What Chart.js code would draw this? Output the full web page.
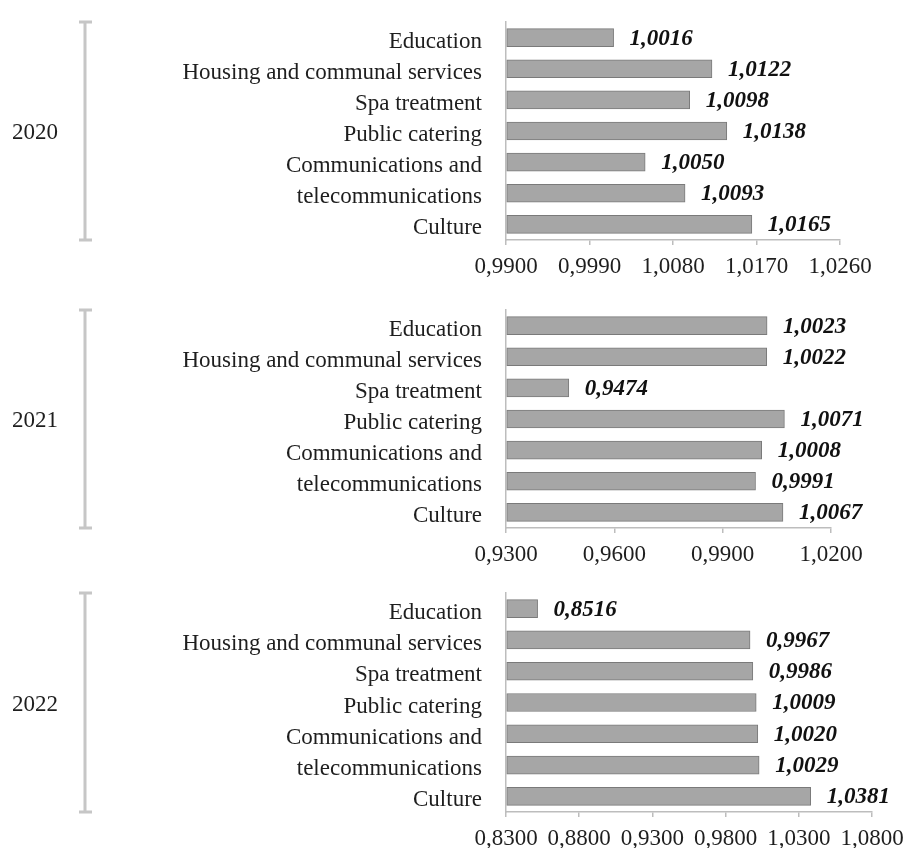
<!DOCTYPE html>
<html>
<head>
<meta charset="utf-8">
<script src="https://cdn.jsdelivr.net/npm/chart.js@4.4.1/dist/chart.umd.min.js"></script>
<style>
  body { margin: 0; background: #fff; overflow: hidden; width: 905px; height: 848px; position: relative; }
  canvas { position: absolute; left: 0; }
</style>
</head>
<body>
<canvas id="chart2020" width="905" height="286" style="top:0"></canvas>
<canvas id="chart2021" width="905" height="286" style="top:288px"></canvas>
<canvas id="chart2022" width="905" height="277" style="top:571px"></canvas>
<script>
const categories = [
    "Education",
    "Housing and communal services",
    "Spa treatment",
    "Public catering",
    "Communications and",
    "telecommunications",
    "Culture"
];

const values2020 = [1.0016, 1.0122, 1.0098, 1.0138, 1.0050, 1.0093, 1.0165];
const values2021 = [1.0023, 1.0022, 0.9474, 1.0071, 1.0008, 0.9991, 1.0067];
const values2022 = [0.8516, 0.9967, 0.9986, 1.0009, 1.0020, 1.0029, 1.0381];

const ticks2020 = [0.99, 0.999, 1.008, 1.017, 1.026];
const ticks2021 = [0.93, 0.96, 0.99, 1.02];
const ticks2022 = [0.83, 0.88, 0.93, 0.98, 1.03, 1.08];

Chart.defaults.font.family = '"Liberation Serif", "Times New Roman", serif';
Chart.defaults.font.size = 23;
Chart.defaults.color = "#1e1e1e";

function fmt(v) {
    return Number(v).toFixed(4).replace(".", ",");
}

// year caption with the gray bracket on the left side
const yearBracket = {
    id: "yearBracket",
    afterDraw(chart, args, opts) {
        const ctx = chart.ctx;
        const area = chart.chartArea;
        ctx.save();
        ctx.strokeStyle = "#c6c6c6";
        ctx.lineWidth = 3;
        ctx.beginPath();
        ctx.moveTo(85, area.top);
        ctx.lineTo(85, area.bottom);
        ctx.moveTo(79, area.top);
        ctx.lineTo(92, area.top);
        ctx.moveTo(79, area.bottom);
        ctx.lineTo(92, area.bottom);
        ctx.stroke();
        ctx.fillStyle = "#1e1e1e";
        ctx.font = '23px "Liberation Serif"';
        ctx.textAlign = "center";
        ctx.textBaseline = "middle";
        ctx.fillText(opts.year, 35, (area.top + area.bottom) / 2 + 2);
        ctx.restore();
    }
};

// bold italic value next to every bar
const valueLabels = {
    id: "valueLabels",
    afterDatasetsDraw(chart) {
        const ctx = chart.ctx;
        const meta = chart.getDatasetMeta(0);
        const xScale = chart.scales.x;
        ctx.save();
        ctx.font = 'italic bold 23px "Liberation Serif"';
        ctx.fillStyle = "#111";
        ctx.textAlign = "left";
        ctx.textBaseline = "middle";
        chart.data.datasets[0].data.forEach((v, i) => {
            ctx.fillText(fmt(v), xScale.getPixelForValue(v) + 16, meta.data[i].y + 1);
        });
        ctx.restore();
    }
};

function drawPanel(id, year, values, tickValues, rightPad, axisHeight) {
    const min = tickValues[0];
    const max = tickValues[tickValues.length - 1];

    new Chart(document.getElementById(id), {
        type: "bar",
        data: {
            labels: categories,
            datasets: [
                {
                    data: values,
                    base: min,
                    backgroundColor: "#a6a6a6",
                    borderColor: "#7a7a7a",
                    borderWidth: 1,
                    borderSkipped: false,
                    barThickness: 18
                }
            ]
        },
        options: {
            indexAxis: "y",
            responsive: false,
            animation: false,
            events: [],
            layout: { padding: { top: 22, right: rightPad, left: 0, bottom: 0 } },
            plugins: {
                legend: { display: false },
                tooltip: { enabled: false },
                yearBracket: { year: year }
            },
            scales: {
                x: {
                    min: min,
                    max: max,
                    afterBuildTicks: s => { s.ticks = tickValues.map(v => ({ value: v })); },
                    afterFit: s => {
                        s.height = axisHeight;
                        s.paddingLeft = 0;
                        s.paddingRight = 0;
                    },
                    grid: { drawOnChartArea: false, drawTicks: true, tickLength: 5, color: "#bdbdbd", lineWidth: 1.5 },
                    border: { color: "#bdbdbd", width: 1.5 },
                    ticks: { padding: 8, maxRotation: 0, autoSkip: false, callback: v => fmt(v) }
                },
                y: {
                    afterFit: s => {
                        s.width = 506;
                        s.paddingTop = 0;
                        s.paddingBottom = 0;
                    },
                    grid: { display: false },
                    border: { display: true, color: "#bdbdbd", width: 1.5 },
                    ticks: { padding: 16, labelOffset: 4, autoSkip: false }
                }
            }
        },
        plugins: [yearBracket, valueLabels]
    });
}

drawPanel("chart2020", "2020", values2020, ticks2020, 65, 46);
drawPanel("chart2021", "2021", values2021, ticks2021, 74, 46);
drawPanel("chart2022", "2022", values2022, ticks2022, 33, 36);
</script>
</body>
</html>
